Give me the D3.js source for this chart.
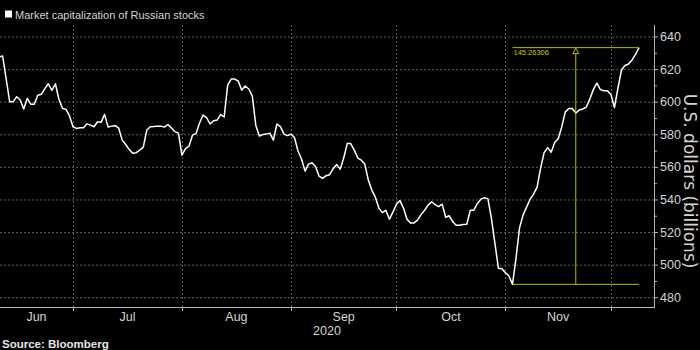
<!DOCTYPE html>
<html>
<head>
<meta charset="utf-8">
<script src="https://cdn.jsdelivr.net/npm/d3@7"></script>
<style>
  html, body { margin: 0; padding: 0; background: #000; }
  svg { display: block; }
</style>
</head>
<body>
<svg id="chart" width="700" height="350"></svg>
<script>
// Market capitalization of Russian stocks, US$ billions, daily from 10 Jun 2020
const seriesName = "Market capitalization of Russian stocks";
const startDate = "2020-06-10";
const capValues = [
  627.5, 628, 614, 600, 600, 603, 601, 595.5, 602, 598.5,
  598.5, 604, 604.5, 608, 611, 607, 611, 601.5, 596, 595.3,
  591.4, 584.6, 583.6, 584, 584, 586.4, 585.6, 584.6, 587.7, 587.3,
  592.2, 584.4, 585, 585.3, 583.8, 576.4, 573.7, 570.6, 568.4, 568.7,
  570.3, 572.1, 582.6, 584.6, 584.7, 585, 585, 584.4, 586, 583.8,
  581.6, 580.7, 567.2, 571.2, 572.7, 579.5, 580.4, 586.9, 591.8, 590.2,
  586.3, 588.3, 588.7, 592.1, 590.6, 610.2, 613.9, 613.9, 612.7, 607.1,
  609.6, 607.8, 603.5, 585.6, 578.9, 579.8, 580.1, 580.7, 576.4, 586.3,
  584.7, 580.1, 579.2, 580.1, 578, 569.7, 564.8, 557.4, 561.7, 562.5,
  560.1, 554.3, 552.9, 554.6, 555.2, 558.9, 561.4, 558.6, 565.4, 574.3,
  574.3, 570.3, 565.4, 564.1, 561.7, 551.9, 545.7, 541.4, 534.7, 531.9,
  533.4, 527.9, 532.2, 537.1, 539.3, 534.7, 527.9, 525.6, 525.6, 527.3,
  530.7, 533.4, 536.5, 538.6, 536.8, 535.6, 537.1, 529.1, 530, 526.4,
  524.2, 524.2, 524.6, 524.8, 533.4, 533.4, 537.4, 540.2, 541, 540.5,
  528.5, 513.2, 497.8, 497.5, 495, 493, 487.9, 503.9, 522.4, 530.4,
  535.3, 540, 543.3, 547.6, 559.2, 568.7, 571.8, 569, 574.9, 577.3,
  584.4, 593.6, 595.8, 595.8, 593, 594.9, 595.5, 596.7, 601.6, 607.4,
  611.4, 607.4, 606.7, 606.7, 604.4, 596.4, 608.4, 619.4, 622.2, 623.1,
  625.6, 629, 633.16306
];
const yTicks = [480, 500, 520, 540, 560, 580, 600, 620, 640];
const yMinorTicks = [490, 510, 530, 550, 570, 590, 610, 630];
const monthLabels = ["Jun", "Jul", "Aug", "Sep", "Oct", "Nov"];
const monthStarts = ["2020-06-01", "2020-07-01", "2020-08-01", "2020-09-01", "2020-10-01", "2020-11-01", "2020-12-01"];
const yearLabel = "2020";
const yTitle = "U.S. dollars (billions)";
const sourceText = "Source: Bloomberg";

const parse = d3.utcParse("%Y-%m-%d");
const t0 = parse(startDate);
const data = capValues.map((v, i) => ({ date: d3.utcDay.offset(t0, i), value: v }));

const W = 700;
const plot = { left: 0, right: 654, top: 25, bottom: 307 };

const x = d3.scaleUtc()
  .domain([new Date(Date.UTC(2020, 5, 10, 6)), new Date(Date.UTC(2020, 11, 13, 6))])
  .range([plot.left, plot.right]);
const y = d3.scaleLinear()
  .domain([474, 647.06])
  .range([plot.bottom, plot.top]);

const svg = d3.select("#chart");
svg.append("rect").attr("width", W).attr("height", 350).attr("fill", "#000");

const tickFont = "'Liberation Sans', Arial, sans-serif";
const textColor = "#d4d4d4";
const gridColor = "#5c5c5c";
const axisColor = "#b4b4b4";
const accent = "#bcbc00";

svg.append("defs").append("clipPath").attr("id", "plotClip")
  .append("rect")
  .attr("x", plot.left).attr("y", plot.top - 5)
  .attr("width", plot.right - plot.left).attr("height", plot.bottom - plot.top + 5);

// Horizontal dotted gridlines
svg.append("g").selectAll("line").data(yTicks).join("line")
  .attr("x1", plot.left).attr("x2", plot.right)
  .attr("y1", d => y(d) + 0.5).attr("y2", d => y(d) + 0.5)
  .attr("stroke", gridColor).attr("stroke-width", 1)
  .attr("stroke-dasharray", "2,2");

// Vertical dotted gridlines at month starts
const gridMonths = monthStarts.map(parse).filter(d => x(d) > plot.left && x(d) < plot.right);
svg.append("g").selectAll("line").data(gridMonths).join("line")
  .attr("x1", d => Math.round(x(d)) + 0.5).attr("x2", d => Math.round(x(d)) + 0.5)
  .attr("y1", plot.top).attr("y2", plot.bottom)
  .attr("stroke", gridColor).attr("stroke-width", 1)
  .attr("stroke-dasharray", "2,2");

// X axis (bottom)
svg.append("line")
  .attr("x1", plot.left).attr("x2", plot.right)
  .attr("y1", plot.bottom + 0.5).attr("y2", plot.bottom + 0.5)
  .attr("stroke", axisColor).attr("stroke-width", 1);
svg.append("g").selectAll("line").data(gridMonths).join("line")
  .attr("x1", d => Math.round(x(d)) + 0.5).attr("x2", d => Math.round(x(d)) + 0.5)
  .attr("y1", plot.bottom).attr("y2", plot.bottom + 4)
  .attr("stroke", axisColor);

// Month labels centred on the visible part of each month
const monthDates = monthStarts.map(parse);
svg.append("g").selectAll("text").data(monthLabels).join("text")
  .attr("x", (d, i) => {
    const a = Math.max(x(monthDates[i]), plot.left);
    const b = Math.min(x(monthDates[i + 1]), plot.right);
    return (a + b) / 2;
  })
  .attr("y", 321)
  .attr("text-anchor", "middle")
  .attr("font-family", tickFont).attr("font-size", 12.5)
  .attr("fill", textColor)
  .text(d => d);

svg.append("text")
  .attr("x", (plot.left + plot.right) / 2).attr("y", 335)
  .attr("text-anchor", "middle")
  .attr("font-family", tickFont).attr("font-size", 12.5)
  .attr("fill", textColor)
  .text(yearLabel);

// Y axis (right)
svg.append("line")
  .attr("x1", plot.right + 0.5).attr("x2", plot.right + 0.5)
  .attr("y1", plot.top).attr("y2", plot.bottom + 1)
  .attr("stroke", axisColor).attr("stroke-width", 1);
svg.append("g").selectAll("line").data(yTicks).join("line")
  .attr("x1", plot.right).attr("x2", plot.right + 4)
  .attr("y1", d => y(d) + 0.5).attr("y2", d => y(d) + 0.5)
  .attr("stroke", axisColor);
svg.append("g").selectAll("line").data(yMinorTicks).join("line")
  .attr("x1", plot.right).attr("x2", plot.right + 3)
  .attr("y1", d => y(d) + 0.5).attr("y2", d => y(d) + 0.5)
  .attr("stroke", axisColor);
svg.append("g").selectAll("text").data(yTicks).join("text")
  .attr("x", plot.right + 6)
  .attr("y", d => y(d) + 4.6)
  .attr("font-family", tickFont).attr("font-size", 12.5)
  .attr("fill", textColor)
  .text(d => d);

svg.append("text")
  .attr("transform", `translate(684,181) rotate(90)`)
  .attr("text-anchor", "middle")
  .attr("font-family", "'DejaVu Sans', sans-serif").attr("font-size", 17)
  .attr("fill", textColor)
  .text(yTitle);

// Series line
const line = d3.line().x(d => x(d.date)).y(d => y(d.value));
svg.append("path")
  .datum(data)
  .attr("clip-path", "url(#plotClip)")
  .attr("d", line)
  .attr("fill", "none")
  .attr("stroke", "#fff")
  .attr("stroke-width", 1.5)
  .attr("stroke-linejoin", "round");

// Low-to-latest change marker
const lowPt = data.reduce((m, d) => (d.value < m.value ? d : m), data[0]);
const lastPt = data[data.length - 1];
const xLow = x(lowPt.date), xLast = x(lastPt.date);
const yLow = y(lowPt.value), yLast = y(lastPt.value);
const xMid = (xLow + xLast) / 2;
const change = lastPt.value - lowPt.value;

const mk = svg.append("g").attr("stroke", accent).attr("stroke-width", 1).attr("fill", "none");
mk.append("line").attr("x1", xLow).attr("x2", xLast).attr("y1", yLow).attr("y2", yLow);
mk.append("line").attr("x1", xLow).attr("x2", xLast).attr("y1", yLast).attr("y2", yLast);
mk.append("line").attr("x1", xMid).attr("x2", xMid).attr("y1", yLast).attr("y2", yLow);
mk.append("path")
  .attr("d", `M${xMid},${yLast + 0.8} L${xMid + 3},${yLast + 6} L${xMid - 3},${yLast + 6} Z`)
  .attr("fill", "#000");

svg.append("text")
  .attr("x", xLow + 1).attr("y", yLast + 7.2)
  .attr("font-family", tickFont).attr("font-size", 7.5)
  .attr("fill", "#c8c800")
  .text(d3.format(".5f")(change));

// Legend
svg.append("rect").attr("x", 5).attr("y", 10.5).attr("width", 7).attr("height", 7).attr("fill", "#fff");
svg.append("text")
  .attr("x", 15).attr("y", 18.5)
  .attr("font-family", tickFont).attr("font-size", 11)
  .attr("fill", textColor)
  .text(seriesName);

// Source
svg.append("text")
  .attr("x", 2).attr("y", 348)
  .attr("font-family", tickFont).attr("font-size", 11.5).attr("font-weight", "bold")
  .attr("fill", "#e6e6e6")
  .text(sourceText);
</script>
</body>
</html>
